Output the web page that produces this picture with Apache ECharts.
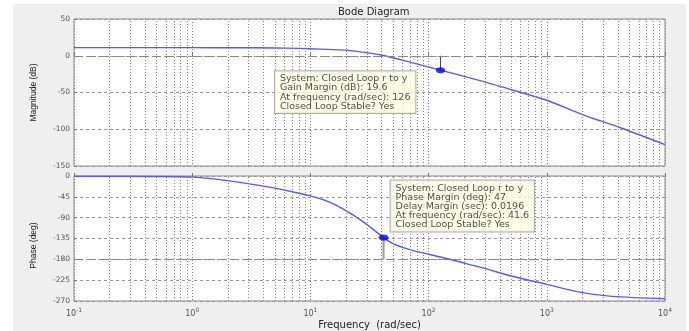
<!DOCTYPE html>
<html>
<head>
<meta charset="utf-8">
<script src="https://cdn.jsdelivr.net/npm/echarts@6/dist/echarts.min.js"></script>
<style>
  html, body { margin: 0; padding: 0; background: #ffffff; }
  #chart { width: 689px; height: 331px; }
</style>
</head>
<body>
<div id="chart"></div>
<script>
// Closed loop r -> y frequency response
const freqMag = [0.1, 0.3, 1, 2.5, 5, 8, 12, 20, 30, 39, 60, 126, 282, 616, 1000, 2000, 4200, 10000];
const magDb   = [11, 11, 11, 10.9, 10.6, 10, 9, 7.6, 4.1, 1.4, -6, -19.6, -34.6, -50.4, -60.5, -80, -98, -121];

const freqPhase = [0.1, 0.5, 1, 2, 4, 7, 10, 15, 20, 28, 35, 41.6, 50, 60, 72, 100, 126, 200, 282, 500, 1000, 2000, 3560, 10000];
const phaseDeg  = [-0.5, -1, -2.5, -10, -22, -34, -43, -58, -75, -99, -118, -133, -146, -154, -160, -169, -175, -188, -198, -216, -234, -252, -260, -265];

// Stability margins
const gmDb = 19.6, gmFreq = 126;
const pmDeg = 47, pmFreq = 41.6, delayMarginSec = 0.0196;

// Axis ticks
const magTicks = [-150, -100, -50, 0, 50];
const phaseTicks = [-270, -225, -180, -135, -90, -45, 0];
const decadeExp = [-1, 0, 1, 2, 3, 4];

const FONT = 'DejaVu Sans';
const LABEL_FONT = 'Liberation Sans';
const curveColor = '#5a5aec';

const fMin = Math.pow(10, decadeExp[0]);
const fMax = Math.pow(10, decadeExp[decadeExp.length - 1]);

// 2..9 within every decade for the dotted log grid
const minorFreqs = [];
for (let i = 0; i < decadeExp.length - 1; i++) {
  for (let d = 2; d <= 9; d++) minorFreqs.push(d * Math.pow(10, decadeExp[i]));
}

function zip(xs, ys) { return xs.map((x, i) => [x, ys[i]]); }

function decadeLabel(v) {
  const e = Math.round(Math.log10(v));
  return '{b|10}{e|' + e + '}';
}

function xAxisCfg(gridIndex, showLabels) {
  return {
    type: 'log', logBase: 10, gridIndex: gridIndex, min: fMin, max: fMax,
    axisLine: { show: false },
    axisTick: { show: true, inside: true, length: 3, lineStyle: { color: '#777' } },
    axisLabel: {
      show: showLabels, formatter: decadeLabel, margin: 6,
      rich: {
        b: { fontFamily: FONT, fontSize: 8, color: '#555' },
        e: { fontFamily: FONT, fontSize: 6, color: '#555', padding: [0, 0, 7, 0] }
      }
    },
    splitLine: { show: true, lineStyle: { type: [1, 2], color: '#888', width: 1 } }
  };
}

function yAxisCfg(gridIndex, ticks, name, namePad) {
  return {
    type: 'value', gridIndex: gridIndex,
    min: ticks[0], max: ticks[ticks.length - 1], interval: ticks[1] - ticks[0],
    name: name, nameLocation: 'middle', nameGap: 36,
    nameTextStyle: { fontFamily: LABEL_FONT, fontSize: 8.5, color: '#222', padding: namePad },
    axisLine: { show: false },
    axisTick: { show: true, inside: true, length: 3, lineStyle: { color: '#777' } },
    axisLabel: { fontFamily: FONT, fontSize: 7.5, color: '#555', margin: 4 },
    splitLine: { show: true, lineStyle: { type: [3, 3], color: '#999', width: 1 } }
  };
}

function gridLinesSeries(axisIdx, data, refValue) {
  const items = minorFreqs.map(f => ({ xAxis: f }));
  items.push({ yAxis: refValue, lineStyle: { type: [9, 4], color: '#888', width: 1 } });
  return {
    type: 'line', xAxisIndex: axisIdx, yAxisIndex: axisIdx, data: data,
    showSymbol: false, lineStyle: { opacity: 0 }, z: 1, silent: true,
    markLine: {
      silent: true, symbol: ['none', 'none'], label: { show: false },
      lineStyle: { type: [1, 2], color: '#888', width: 1 },
      data: items
    }
  };
}

const tipStyle = {
  show: true, align: 'left',
  fontFamily: FONT, fontSize: 9.5, lineHeight: 9.2, color: '#222',
  backgroundColor: '#ffffe4', borderColor: '#999', borderWidth: 1,
  padding: [3, 5, 2, 5]
};

const magData = zip(freqMag, magDb);
const phaseData = zip(freqPhase, phaseDeg);
const pmPhase = -180 + pmDeg;

const option = {
  animation: false,
  backgroundColor: '#ffffff',
  graphic: [{
    type: 'rect', z: -10, silent: true,
    shape: { x: 13, y: 4, width: 673, height: 327 },
    style: { fill: '#efefef' }
  }],
  title: {
    text: 'Bode Diagram', left: 333, top: 2,
    textStyle: { fontFamily: FONT, fontSize: 10, fontWeight: 'normal', color: '#222' }
  },
  grid: [
    { left: 74, right: 24, top: 19, height: 147, show: true, backgroundColor: '#ffffff', borderColor: '#888', borderWidth: 1 },
    { left: 74, right: 24, top: 176, height: 128, show: true, backgroundColor: '#ffffff', borderColor: '#888', borderWidth: 1 }
  ],
  xAxis: [
    xAxisCfg(0, false),
    Object.assign(xAxisCfg(1, true), {
      name: 'Frequency  (rad/sec)', nameLocation: 'middle', nameGap: 19,
      nameTextStyle: { fontFamily: FONT, fontSize: 10, color: '#222' }
    })
  ],
  yAxis: [
    yAxisCfg(0, magTicks, 'Magnitude (dB)', [0, 0, 0, 0]),
    yAxisCfg(1, phaseTicks, 'Phase (deg)', [0, 14, 0, 0])
  ],
  series: [
    gridLinesSeries(0, magData, 0),
    gridLinesSeries(1, phaseData, -180),
    {
      type: 'line', xAxisIndex: 0, yAxisIndex: 0, data: magData,
      smooth: 0.3, showSymbol: false, z: 3, silent: true,
      lineStyle: { color: curveColor, width: 1.4 }
    },
    {
      type: 'line', xAxisIndex: 1, yAxisIndex: 1, data: phaseData,
      smooth: 0.3, showSymbol: false, z: 3, silent: true,
      lineStyle: { color: curveColor, width: 1.4 }
    },
    // gain margin marker: stem from 0 dB down to the curve
    {
      type: 'line', xAxisIndex: 0, yAxisIndex: 0, data: [[gmFreq, 0], [gmFreq, -gmDb]],
      showSymbol: false, z: 4, silent: true, lineStyle: { color: '#444', width: 1 }
    },
    {
      type: 'scatter', xAxisIndex: 0, yAxisIndex: 0, data: [[gmFreq, -gmDb]],
      symbol: 'circle', symbolSize: [9, 6], itemStyle: { color: '#0000ff' }, z: 6, silent: true,
      label: Object.assign({}, tipStyle, {
        position: [-161, 4], verticalAlign: 'top',
        formatter: [
          'System: Closed Loop r to y',
          'Gain Margin (dB): ' + gmDb,
          'At frequency (rad/sec): ' + gmFreq,
          'Closed Loop Stable? Yes'
        ].join('\n')
      })
    },
    // phase margin marker: stem from the curve down to -180 deg
    {
      type: 'line', xAxisIndex: 1, yAxisIndex: 1, data: [[pmFreq, pmPhase], [pmFreq, -180]],
      showSymbol: false, z: 4, silent: true, lineStyle: { color: '#999', width: 2 }
    },
    {
      type: 'scatter', xAxisIndex: 1, yAxisIndex: 1, data: [[pmFreq, pmPhase]],
      symbol: 'circle', symbolSize: [10, 6], itemStyle: { color: '#0000ff' }, z: 6, silent: true,
      label: Object.assign({}, tipStyle, {
        position: [12, -3], verticalAlign: 'bottom',
        formatter: [
          'System: Closed Loop r to y',
          'Phase Margin (deg): ' + pmDeg,
          'Delay Margin (sec): ' + delayMarginSec,
          'At frequency (rad/sec): ' + pmFreq,
          'Closed Loop Stable? Yes'
        ].join('\n')
      })
    }
  ]
};

const chart = echarts.init(document.getElementById('chart'), null, { renderer: 'canvas' });
chart.setOption(option);
</script>
</body>
</html>
